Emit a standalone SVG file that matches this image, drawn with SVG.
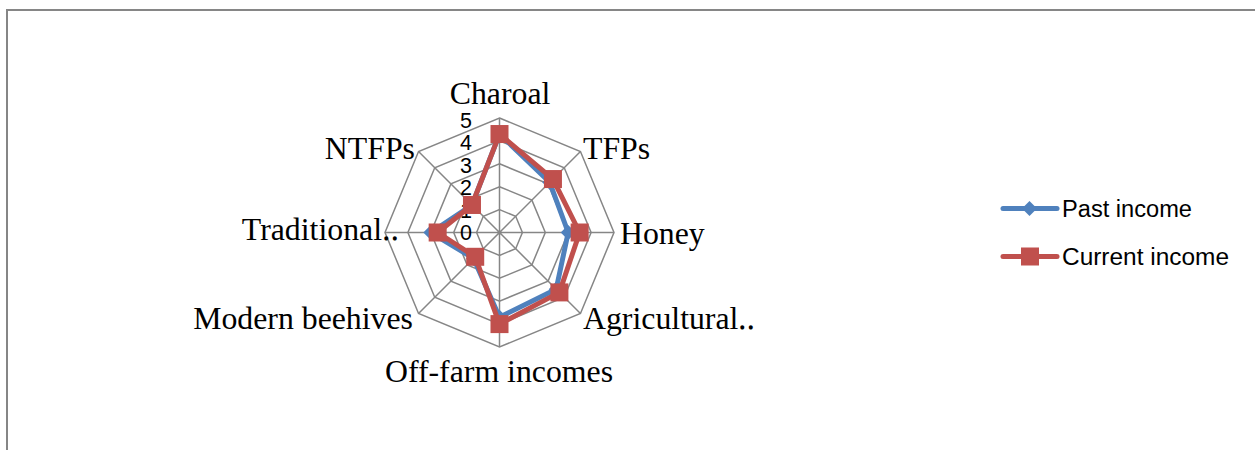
<svg xmlns="http://www.w3.org/2000/svg" width="1255" height="450" viewBox="0 0 1255 450">
<style>
.grid{fill:none;stroke:#868686;stroke-width:1.5}
.lbl{font-family:"Liberation Serif","Times New Roman",serif;font-size:31.8px;fill:#000}
.num{font-family:"Liberation Sans",Arial,sans-serif;font-size:21.5px;fill:#000;text-anchor:end}
.leg{font-family:"Liberation Sans",Arial,sans-serif;font-size:23.5px;fill:#000}
.past{fill:none;stroke:#4F81BD;stroke-width:5;stroke-linejoin:round}
.cur{fill:none;stroke:#C0504D;stroke-width:5;stroke-linejoin:round}
</style>
<defs>
<path id="dia" d="M0,-7.5 L7.5,0 L0,7.5 L-7.5,0 Z" fill="#4F81BD"/>
<rect id="sq" x="-9" y="-9" width="18" height="18" fill="#C0504D"/>
</defs>
<rect width="1255" height="450" fill="#fff"/>
<rect id="frame" x="7" y="10" width="1270" height="460" fill="none" stroke="#868686" stroke-width="2"/>
<g id="grid" transform="translate(499.5,232.5)">
<polygon class="grid" points="0,-22.9 16.19,-16.19 22.9,0 16.19,16.19 0,22.9 -16.19,16.19 -22.9,0 -16.19,-16.19"/>
<polygon class="grid" points="0,-45.8 32.39,-32.39 45.8,0 32.39,32.39 0,45.8 -32.39,32.39 -45.8,0 -32.39,-32.39"/>
<polygon class="grid" points="0,-68.7 48.58,-48.58 68.7,0 48.58,48.58 0,68.7 -48.58,48.58 -68.7,0 -48.58,-48.58"/>
<polygon class="grid" points="0,-91.6 64.77,-64.77 91.6,0 64.77,64.77 0,91.6 -64.77,64.77 -91.6,0 -64.77,-64.77"/>
<polygon class="grid" points="0,-114.5 80.96,-80.96 114.5,0 80.96,80.96 0,114.5 -80.96,80.96 -114.5,0 -80.96,-80.96"/>
<path class="grid" d="M0,0V-114.5M0,0L80.96,-80.96M0,0H114.5M0,0L80.96,80.96M0,0V114.5M0,0L-80.96,80.96M0,0H-114.5M0,0L-80.96,-80.96"/>
</g>
<g id="axis-numbers">
<text class="num" x="472" y="240">0</text>
<text class="num" x="472" y="217.6">1</text>
<text class="num" x="472" y="195.2">2</text>
<text class="num" x="472" y="172.8">3</text>
<text class="num" x="472" y="150.4">4</text>
<text class="num" x="472" y="128">5</text>
</g>
<g id="axis-labels">
<text id="lbl-charoal" class="lbl" x="500" y="104" text-anchor="middle">Charoal</text>
<text id="lbl-tfps" class="lbl" x="583" y="159">TFPs</text>
<text id="lbl-honey" class="lbl" x="620" y="244">Honey</text>
<text id="lbl-agri" class="lbl" x="583" y="329">Agricultural‥</text>
<text id="lbl-offfarm" class="lbl" x="499" y="382" text-anchor="middle">Off-farm incomes</text>
<text id="lbl-modern" class="lbl" x="413" y="329" text-anchor="end">Modern beehives</text>
<text id="lbl-trad" class="lbl" x="399" y="240" text-anchor="end">Traditional‥</text>
<text id="lbl-ntfps" class="lbl" x="415" y="159" text-anchor="end">NTFPs</text>
</g>
<g id="connectors" transform="translate(499.5,232.5)">
<g id="series-past">
<polygon class="past" points="0,-98.47 50.2,-50.2 68.7,0 56.67,56.67 0,84.73 -25.91,25.91 -68.7,0 -27.53,-27.53"/>
<use href="#dia" x="0" y="-98.47"/><use href="#dia" x="50.2" y="-50.2"/><use href="#dia" x="68.7" y="0"/><use href="#dia" x="56.67" y="56.67"/>
<use href="#dia" x="0" y="84.73"/><use href="#dia" x="-25.91" y="25.91"/><use href="#dia" x="-68.7" y="0"/><use href="#dia" x="-27.53" y="-27.53"/>
</g>
<g id="series-current">
<polygon class="cur" points="0,-98.47 53.44,-53.44 80.15,0 59.91,59.91 0,91.6 -24.29,24.29 -61.83,0 -27.53,-27.53"/>
<use href="#sq" x="0" y="-98.47"/><use href="#sq" x="53.44" y="-53.44"/><use href="#sq" x="80.15" y="0"/><use href="#sq" x="59.91" y="59.91"/>
<use href="#sq" x="0" y="91.6"/><use href="#sq" x="-24.29" y="24.29"/><use href="#sq" x="-61.83" y="0"/><use href="#sq" x="-27.53" y="-27.53"/>
</g>
</g>
<g id="legend">
<g id="legend-past">
<line x1="1003" y1="208.5" x2="1057" y2="208.5" stroke="#4F81BD" stroke-width="5" stroke-linecap="round"/>
<use href="#dia" x="1029.5" y="208.5"/>
<text class="leg" x="1062" y="217" textLength="130" lengthAdjust="spacingAndGlyphs">Past income</text>
</g>
<g id="legend-current">
<line x1="1003" y1="256.5" x2="1057" y2="256.5" stroke="#C0504D" stroke-width="5" stroke-linecap="round"/>
<use href="#sq" x="1030" y="256.5"/>
<text class="leg" x="1062" y="265" textLength="167" lengthAdjust="spacingAndGlyphs">Current income</text>
</g>
</g>
</svg>
